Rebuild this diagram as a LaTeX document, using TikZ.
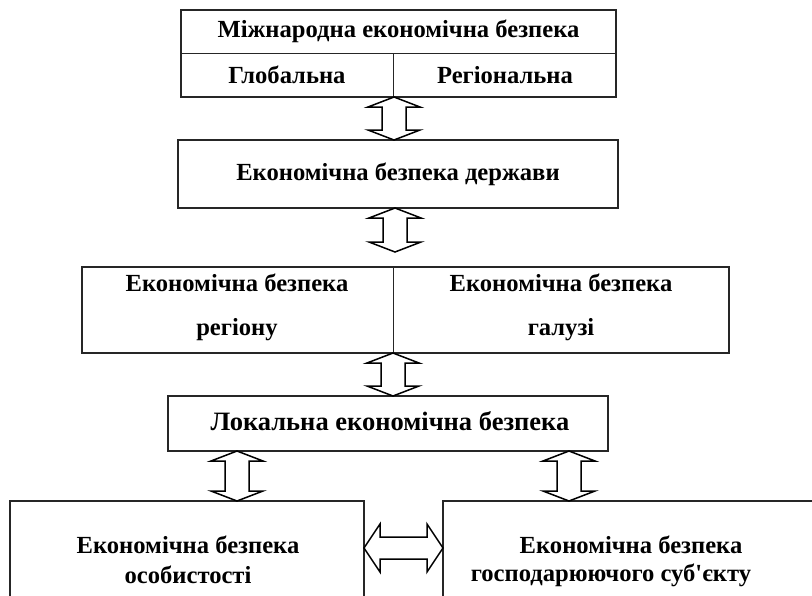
\documentclass[tikz,border=0pt]{standalone}
\usepackage{fontspec}
\setmainfont{Liberation Serif}
\usetikzlibrary{calc}
\newcommand\vdarrow[2]{%
  \draw[arrshape] let \p1=(#1), \p2=(#2) in
    (\x1,\y1) -- (\x1+26pt,\y1-10pt) -- (\x1+12pt,\y1-10pt) -- (\x1+12pt,\y2+10pt)
    -- (\x1+26pt,\y2+10pt) -- (\x1,\y2) -- (\x1-26pt,\y2+10pt) -- (\x1-12pt,\y2+10pt)
    -- (\x1-12pt,\y1-10pt) -- (\x1-26pt,\y1-10pt) -- cycle;}
\newcommand\hdarrow[2]{%
  \draw[arrshape] let \p1=(#1), \p2=(#2) in
    (\x1,\y1) -- (\x1+16pt,\y1+24pt) -- (\x1+16pt,\y1+11pt) -- (\x2-16pt,\y1+11pt)
    -- (\x2-16pt,\y1+24pt) -- (\x2,\y1) -- (\x2-16pt,\y1-24pt) -- (\x2-16pt,\y1-11pt)
    -- (\x1+16pt,\y1-11pt) -- (\x1+16pt,\y1-24pt) -- cycle;}
\begin{document}
\begin{tikzpicture}[x=1pt,y=-1pt,
  box/.style={draw=black!85, line width=1.5pt, fill=white, inner sep=0pt},
  divider/.style={draw=black!85, line width=1pt},
  arrshape/.style={draw=black, line width=1.5pt, fill=white, line join=miter},
  txt/.style={font=\bfseries\fontsize{24.6}{28}\selectfont, inner sep=0pt, text=black},
  bigtxt/.style={font=\bfseries\fontsize{26.5}{30}\selectfont, inner sep=0pt, text=black}]
\useasboundingbox (0,0) rectangle (812,595);
\clip (0,0) rectangle (812,595);
% boxes
\node[box, minimum width=435pt, minimum height=87pt] (b1) at (398.5,53.5) {};
\node[box, minimum width=440pt, minimum height=68pt] (b2) at (398,174) {};
\node[box, minimum width=647pt, minimum height=86pt] (b3) at (405.5,310) {};
\node[box, minimum width=440pt, minimum height=55pt] (b4) at (388,423.5) {};
\node[box, minimum width=354pt, minimum height=139pt] (b5) at (187,570.5) {};
\node[box, minimum width=417pt, minimum height=139pt] (b6) at (651.5,570.5) {};
% dividers
\coordinate (d1l) at (181,53);
\coordinate (d1r) at (616,53);
\coordinate (d1t) at (393,53);
\coordinate (d1b) at (393,97);
\draw[divider] (d1l) -- (d1r);
\draw[divider] (d1t) -- (d1b);
\coordinate (d3t) at (393,267);
\coordinate (d3b) at (393,353);
\draw[divider] (d3t) -- (d3b);
% texts
\node[txt] (t1) at (398.5,31) {Міжнародна економічна безпека};
\node[txt] (t1a) at (287,75) {Глобальна};
\node[txt] (t1b) at (505,75) {Регіональна};
\node[txt] (t2) at (398,174) {Економічна безпека держави};
\node[txt] (t3a) at (237,283) {Економічна безпека};
\node[txt] (t3b) at (237,330) {регіону};
\node[txt] (t3c) at (561,283) {Економічна безпека};
\node[txt] (t3d) at (561,330) {галузі};
\node[bigtxt] (t4) at (390,421) {Локальна економічна безпека};
\node[txt] (t5a) at (188,545) {Економічна безпека};
\node[txt] (t5b) at (188,575) {особистості};
\node[txt] (t6a) at (631,545) {Економічна безпека};
\node[txt] (t6b) at (611,575) {господарюючого суб\textquotesingle єкту};
% arrow end points
\coordinate (a1t) at (394,97);
\coordinate (a1b) at (394,140);
\coordinate (a2t) at (395,208);
\coordinate (a2b) at (395,252);
\coordinate (a3t) at (393,353);
\coordinate (a3b) at (393,396);
\coordinate (a4t) at (237,451);
\coordinate (a4b) at (237,501);
\coordinate (a5t) at (569,451);
\coordinate (a5b) at (569,501);
\coordinate (hl) at (364,548);
\coordinate (hr) at (443,548);
\vdarrow{a1t}{a1b}
\vdarrow{a2t}{a2b}
\vdarrow{a3t}{a3b}
\vdarrow{a4t}{a4b}
\vdarrow{a5t}{a5b}
\hdarrow{hl}{hr}
\end{tikzpicture}
\end{document}
